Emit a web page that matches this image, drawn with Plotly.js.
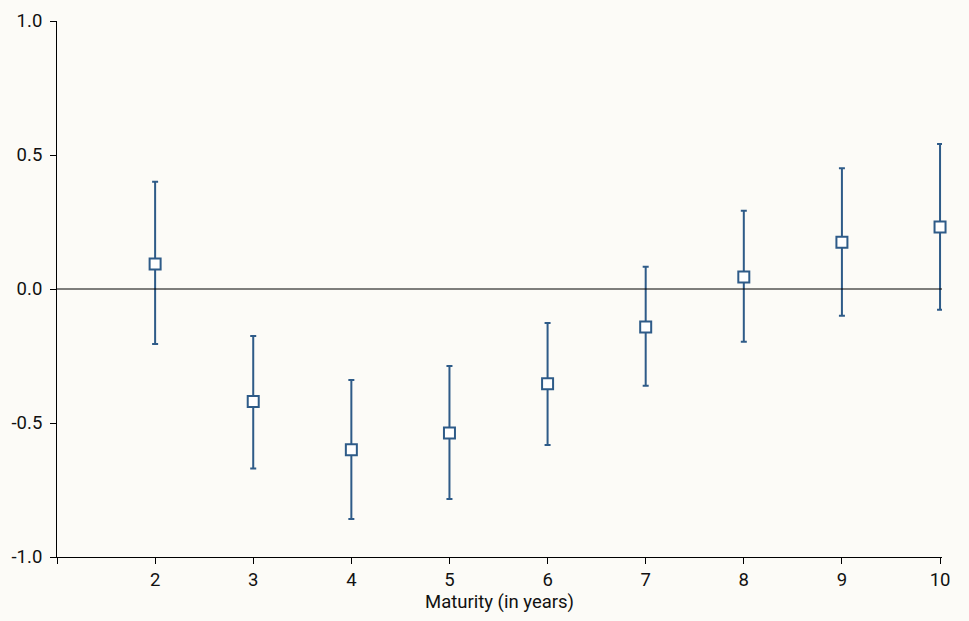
<!DOCTYPE html>
<html><head><meta charset="utf-8">
<script src="https://cdn.plot.ly/plotly-3.0.1.min.js"></script>
<style>html,body{margin:0;padding:0;background:#fcfbf7;}</style>
</head><body><div id="chart" style="width:969px;height:621px;"></div>
<script>
const maturity = [2, 3, 4, 5, 6, 7, 8, 9, 10];
const estimate = [0.093, -0.42, -0.60, -0.537, -0.354, -0.142, 0.045, 0.174, 0.231];
const upper = [0.40, -0.175, -0.34, -0.287, -0.127, 0.083, 0.292, 0.451, 0.541];
const lower = [-0.205, -0.67, -0.858, -0.784, -0.582, -0.361, -0.197, -0.10, -0.077];
const xTickVals = [1, 2, 3, 4, 5, 6, 7, 8, 9, 10];
const xTickText = ['', '2', '3', '4', '5', '6', '7', '8', '9', '10'];
const yTickVals = [-1, -0.5, 0, 0.5, 1];
const yTickText = ['-1.0', '-0.5', '0.0', '0.5', '1.0'];

const col = '#2e5b88';
const trace = {
  x: maturity, y: estimate, type: 'scatter', mode: 'markers', cliponaxis: false,
  marker: {symbol: 'square', size: 11, color: '#ffffff', line: {color: col, width: 2}},
  error_y: {type: 'data', symmetric: false,
    array: upper.map((u, i) => u - estimate[i]),
    arrayminus: estimate.map((e, i) => e - lower[i]),
    color: col, thickness: 2, width: 3},
  hoverinfo: 'none'
};
const layout = {
  width: 969, height: 621,
  margin: {l: 57, r: 27, t: 21, b: 64},
  paper_bgcolor: '#fcfbf7', plot_bgcolor: '#fcfbf7',
  font: {family: 'Roboto, sans-serif', size: 18.5, color: '#111'},
  showlegend: false,
  xaxis: {range: [1, 10.02], tickvals: xTickVals, ticktext: xTickText,
    showgrid: false, zeroline: false, showline: true, linecolor: '#000', linewidth: 1,
    ticks: 'outside', ticklen: 6, tickcolor: '#000',
    title: {text: 'Maturity (in years)', font: {size: 18.5}, standoff: 4}},
  yaxis: {range: [-1, 1], tickvals: yTickVals, ticktext: yTickText,
    showgrid: false, zeroline: false, showline: true, linecolor: '#000', linewidth: 1,
    ticks: 'outside', ticklen: 6, tickcolor: '#000', ticklabelstandoff: 4},
  shapes: [{type: 'line', xref: 'paper', x0: 0, x1: 1, yref: 'y', y0: 0, y1: 0,
    line: {color: '#000', width: 1}}]
};
Plotly.newPlot('chart', [trace], layout, {displayModeBar: false, staticPlot: true});
</script></body></html>
